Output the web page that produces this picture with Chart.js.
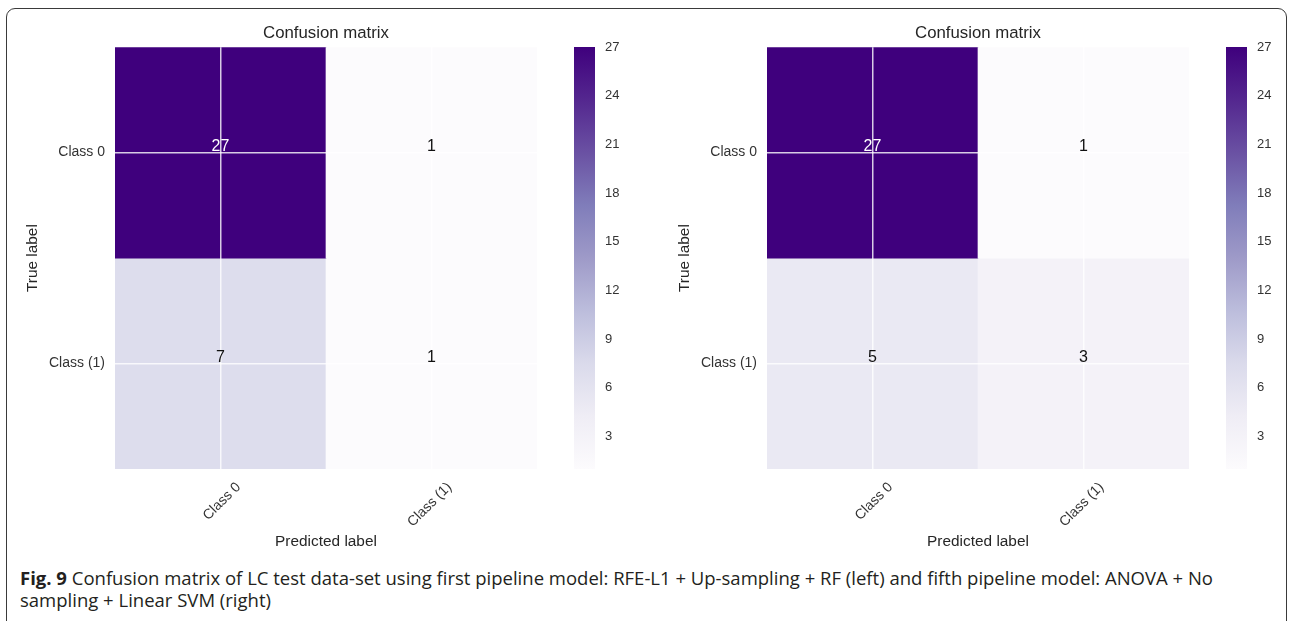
<!DOCTYPE html>
<html>
<head>
<meta charset="utf-8">
<script src="https://cdn.jsdelivr.net/npm/chart.js@4.4.1/dist/chart.umd.min.js"></script>
<style>
  html, body { margin: 0; padding: 0; background: #fff; }
  body { width: 1290px; height: 621px; position: relative; overflow: hidden; }
  .frame { position: absolute; left: 6px; top: 8px; width: 1281px; height: 700px;
           border: 1.5px solid #3a3a3a; border-radius: 9px; box-sizing: border-box; }
  canvas { position: absolute; }
  #caption { position: absolute; left: 20px; top: 567px; font-family: "Open Sans", sans-serif;
             font-size: 18.5px; line-height: 22px; color: #231f20; white-space: nowrap;
             transform-origin: 0 0; }
  #caption b { font-weight: 700; }
</style>
</head>
<body>
<div class="frame"></div>
<canvas id="cmLeft" width="560" height="560" style="left:0px;top:0px"></canvas>
<canvas id="cbLeft" width="80" height="560" style="left:560px;top:0px"></canvas>
<canvas id="cmRight" width="560" height="560" style="left:652px;top:0px"></canvas>
<canvas id="cbRight" width="80" height="560" style="left:1212px;top:0px"></canvas>
<div id="caption"><span id="capLine1"><b>Fig. 9</b> Confusion matrix of LC test data-set using first pipeline model: RFE-L1 + Up-sampling + RF (left) and fifth pipeline model: ANOVA + No</span><br><span id="capLine2">sampling + Linear SVM (right)</span></div>

<script>
// Class names on both axes
const predictedLabels = ['Class 0', 'Class (1)'];
const trueLabels = ['Class 0', 'Class (1)'];

// Confusion matrices (rows = true class, columns = predicted class)
const matrixRfeL1 = [
  [27, 1],
  [7, 1]
];
const matrixAnovaSvm = [
  [27, 1],
  [5, 3]
];

// Colour scale range and colour bar ticks
const colorMin = 1;
const colorMax = 27;
const colorbarTicks = [3, 6, 9, 12, 15, 18, 21, 24, 27];

// "Purples" sequential palette, light to dark
const purplesStops = ['#fcfbfd', '#efedf5', '#dadaeb', '#bcbddc', '#9e9ac8',
                      '#807dba', '#6a51a3', '#54278f', '#3f007d'];

function hexToRgb(h) {
  const n = parseInt(h.slice(1), 16);
  return [(n >> 16) & 255, (n >> 8) & 255, n & 255];
}
function purples(t) {
  t = Math.max(0, Math.min(1, t));
  const p = t * (purplesStops.length - 1);
  const i = Math.min(Math.floor(p), purplesStops.length - 2);
  const f = p - i;
  const a = hexToRgb(purplesStops[i]);
  const b = hexToRgb(purplesStops[i + 1]);
  const c = a.map((v, k) => Math.round(v + (b[k] - v) * f));
  return `rgb(${c[0]},${c[1]},${c[2]})`;
}
function norm(v) { return (v - colorMin) / (colorMax - colorMin); }

const FONT = '"Liberation Sans", Arial, sans-serif';
Chart.defaults.font.family = FONT;
Chart.defaults.color = '#333';

// Writes each cell's count at the cell centre
const cellValues = {
  id: 'cellValues',
  afterDraw(chart, args, opts) {
    const { ctx, scales } = chart;
    const m = opts.matrix;
    const thresh = Math.max(...m.flat()) / 2;
    ctx.save();
    ctx.font = '16px ' + FONT;
    ctx.textAlign = 'center';
    ctx.textBaseline = 'middle';
    m.forEach((row, r) => {
      row.forEach((v, c) => {
        const x = scales.x.getPixelForValue(c);
        const y = scales.y.getPixelForValue(r) - 6;
        ctx.fillStyle = v > thresh ? '#ffffff' : '#111111';
        ctx.fillText(String(v), x, y);
      });
    });
    ctx.restore();
  }
};

function makeMatrix(id, matrix) {
  const datasets = trueLabels.map((lab, r) => ({
    label: lab,
    data: matrix[r].map(() => [r - 0.5, r + 0.5]),
    backgroundColor: matrix[r].map(v => purples(norm(v))),
    borderWidth: 0,
    barPercentage: 1,
    categoryPercentage: 1,
    grouped: false
  }));
  return new Chart(document.getElementById(id), {
    type: 'bar',
    data: { labels: predictedLabels, datasets },
    plugins: [cellValues],
    options: {
      responsive: false,
      animation: false,
      devicePixelRatio: 1,
      layout: { padding: { left: 0, right: 23, top: 0, bottom: 0 } },
      plugins: {
        legend: { display: false },
        tooltip: { enabled: false },
        title: {
          display: true,
          text: 'Confusion matrix',
          fullSize: false,
          color: '#262626',
          font: { size: 16.8, weight: 'normal' },
          padding: { top: 23, bottom: 4 }
        },
        cellValues: { matrix }
      },
      scales: {
        x: {
          type: 'category',
          offset: true,
          border: { display: false },
          grid: { offset: false, color: 'rgba(255,255,255,0.8)', lineWidth: 1.5, z: 1, drawTicks: false },
          ticks: { autoSkip: false, minRotation: 45, maxRotation: 45, labelOffset: 18, padding: 10,
                   font: { size: 14 }, color: '#333' },
          title: { display: true, text: 'Predicted label', color: '#262626',
                   font: { size: 15.4 }, padding: { top: 0, bottom: 8.8 } },
          afterFit(s) { s.height = 91; }
        },
        y: {
          type: 'linear',
          min: -0.5,
          max: 1.5,
          reverse: true,
          border: { display: false },
          grid: { color: 'rgba(255,255,255,0.8)', lineWidth: 1.5, z: 1, drawTicks: false },
          afterBuildTicks(s) { s.ticks = trueLabels.map((_, i) => ({ value: i })); },
          ticks: { padding: 10, font: { size: 14 }, color: '#333',
                   callback: (v, i) => trueLabels[i] },
          title: { display: true, text: 'True label', color: '#262626',
                   font: { size: 15.4 }, padding: { top: 24, bottom: 0 } },
          afterFit(s) { s.width = 115; }
        }
      }
    }
  });
}

function makeColorbar(id) {
  return new Chart(document.getElementById(id), {
    type: 'bar',
    data: {
      labels: [''],
      datasets: [{
        data: [[colorMin, colorMax]],
        borderWidth: 0,
        barPercentage: 1,
        categoryPercentage: 1,
        backgroundColor(ctx) {
          const chart = ctx.chart;
          const ys = chart.scales.y;
          const top = ys ? ys.getPixelForValue(colorMax) : NaN;
          const bottom = ys ? ys.getPixelForValue(colorMin) : NaN;
          if (!isFinite(top) || !isFinite(bottom) || top === bottom) {
            return purplesStops[purplesStops.length - 1];
          }
          const g = chart.ctx.createLinearGradient(0, bottom, 0, top);
          purplesStops.forEach((c, i) => g.addColorStop(i / (purplesStops.length - 1), c));
          return g;
        }
      }]
    },
    options: {
      responsive: false,
      animation: false,
      devicePixelRatio: 1,
      layout: { padding: { left: 14, right: 0, top: 47, bottom: 91 } },
      plugins: { legend: { display: false }, tooltip: { enabled: false } },
      scales: {
        x: { display: false },
        y: {
          position: 'right',
          min: colorMin,
          max: colorMax,
          border: { display: false },
          grid: { display: false, drawTicks: false },
          afterBuildTicks(s) { s.ticks = colorbarTicks.map(v => ({ value: v })); },
          ticks: { padding: 10, font: { size: 13 }, color: '#333' },
          afterFit(s) { s.width = 45; }
        }
      }
    }
  });
}

makeMatrix('cmLeft', matrixRfeL1);
makeColorbar('cbLeft');
makeMatrix('cmRight', matrixAnovaSvm);
makeColorbar('cbRight');

// Condense the caption so its first line spans the figure width
(function fitCaption() {
  const cap = document.getElementById('caption');
  const w = document.getElementById('capLine1').getBoundingClientRect().width;
  const target = 1193;
  cap.style.transform = 'scaleX(' + (target / w) + ')';
})();
</script>
</body>
</html>
